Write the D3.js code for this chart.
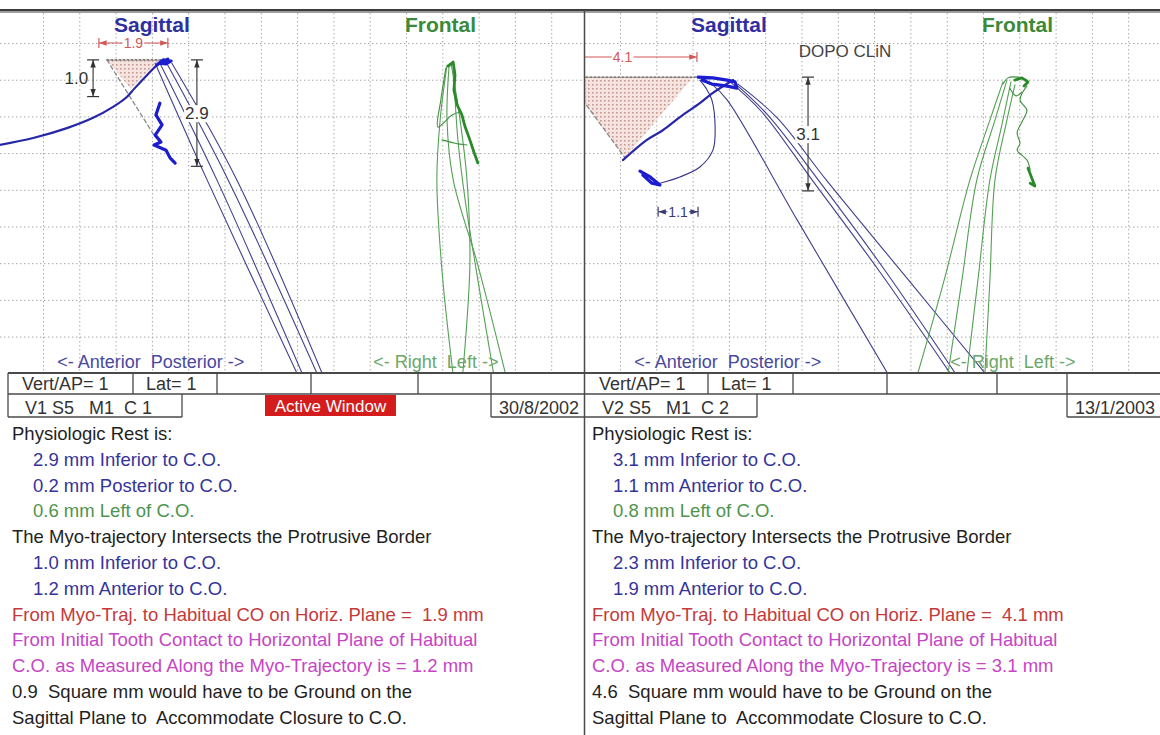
<!DOCTYPE html>
<html lang="en">
<head>
<meta charset="UTF-8">
<title>Myo-trajectory</title>
<script src="https://cdn.jsdelivr.net/npm/d3@7"></script>
<style>
  body { margin: 0; background: #fff; }
  svg text { font-family: "Liberation Sans", Arial, sans-serif; white-space: pre; }
  .grid line { stroke: #a4a4a4; stroke-dasharray: 1.4 2.6; }
  .grid .domain { display: none; }
</style>
</head>
<body>
<script>
// two recordings side by side: left = visit 1, right = visit 2
const sessionIds = ["V1 S5   M1  C 1", "V2 S5   M1  C 2"];
const sessionDates = ["30/8/2002", "13/1/2003"];
const scaleLabels = ["Vert/AP= 1", "Lat= 1"];
const noteR = "DOPO CLiN";

// readings, mm
const restInferior = [2.9, 3.1];
const restAP = [0.2, 1.1];
const restAPSide = ["Posterior", "Anterior"];
const restLeft = [0.6, 0.8];
const crossInferior = [1.0, 2.3];
const crossAnterior = [1.2, 1.9];
const horizPlane = [1.9, 4.1];
const alongTraj = [1.2, 3.1];
const groundArea = [0.9, 4.6];

// habitual C.O. in the sagittal view (mm on the 1 mm grid, y down)
const coSag = [[4.44, 1.46], [3.12, 1.93]];

// ---- left recording, sagittal ----
const sagStrokesL = [
  [[4.09, 1.55], [5.52, 4.73], [8.02, 10.05]],
  [[4.22, 1.55], [5.79, 4.73], [8.16, 10.05]],
  [[4.39, 1.52], [6.10, 4.73], [8.57, 10.05]],
  [[4.55, 1.55], [6.34, 4.73], [8.71, 10.05]]
];
const sagMyoL = [[-0.2, 3.78], [0.73, 3.59], [1.66, 3.32], [2.38, 3.04], [2.93, 2.74],
  [3.31, 2.47], [3.51, 2.25], [3.87, 1.87], [4.22, 1.52]];
const sagCOL = [[4.14, 1.60], [4.31, 1.46], [4.53, 1.49], [4.39, 1.57], [4.22, 1.55], [4.44, 1.44]];
const sagRestL = [[4.22, 2.64], [4.11, 2.96], [4.28, 3.23], [4.09, 3.51], [4.25, 3.70],
  [4.06, 3.78], [4.39, 3.92], [4.50, 4.13], [4.64, 4.27]];
const groundTriL = [[2.76, 1.46], [4.22, 1.46], [3.42, 2.25]];
const borderL = [[2.76, 1.46], [4.09, 3.56]];

// ---- left recording, frontal ----
const frontStrokesL = [
  [[12.13, 1.60], [11.94, 3.10], [11.85, 4.73], [11.99, 7.19], [12.30, 10.05]],
  [[12.19, 1.57], [12.13, 3.10], [12.30, 4.73], [12.98, 7.05], [13.75, 10.05]],
  [[12.24, 1.55], [12.49, 3.10], [12.68, 4.73], [12.76, 7.05], [12.56, 10.05]],
  [[12.30, 1.55], [12.43, 3.64], [12.63, 5.28], [12.98, 7.46], [13.42, 10.05]]
];
const frontScribbleL = [[12.16, 1.63], [12.30, 1.52], [12.35, 1.87], [12.32, 2.28], [12.41, 2.69],
  [12.54, 2.96], [12.63, 3.29], [12.76, 3.64], [12.87, 3.97], [12.98, 4.27]];
const frontLoopL = [[12.10, 1.68], [11.96, 2.55], [11.88, 3.29], [12.27, 2.96], [12.49, 2.88]];
const frontLoopL2 = [[11.99, 3.64], [12.35, 3.73], [12.68, 3.78]];

// ---- right recording, sagittal ----
const sagStrokesR = [
  [[3.53, 2.12], [3.95, 2.55], [5.88, 5.82], [8.40, 10.05]],
  [[3.98, 2.01], [4.91, 2.88], [6.29, 4.73], [8.16, 7.24], [10.13, 10.05]],
  [[4.12, 2.06], [5.05, 2.94], [6.46, 4.73], [8.33, 7.24], [10.27, 10.05]],
  [[4.25, 2.12], [5.33, 3.04], [6.68, 4.73], [8.99, 7.51], [11.10, 10.05]]
];
const sagMyoR = [[1.08, 4.19], [1.74, 3.64], [2.19, 3.37], [2.65, 3.02], [3.20, 2.64], [3.56, 2.36], [4.12, 2.01]];
const sagTopR = [[3.15, 1.93], [3.56, 1.95], [3.95, 2.01], [4.17, 2.06], [4.22, 2.23],
  [3.92, 2.17], [3.53, 2.12], [3.26, 2.01]];
const sagRestR = [[1.55, 4.49], [1.83, 4.65], [2.10, 4.87], [1.88, 4.82], [1.63, 4.60]];
const sagLoopR = [[2.10, 4.82], [2.65, 4.65], [3.20, 4.38], [3.56, 3.92], [3.62, 3.29],
  [3.53, 2.55], [3.37, 2.23], [3.20, 2.01]];
const groundTriR = [[-0.49, 1.93], [3.01, 1.93], [1.14, 4.13]];
const borderR = [[-0.49, 1.93], [1.14, 4.13]];

// ---- right recording, frontal ----
const frontStrokesR = [
  [[11.55, 2.06], [11.19, 3.10], [10.64, 4.73], [9.93, 7.46], [9.19, 10.05]],
  [[11.66, 2.01], [11.33, 3.10], [10.83, 4.73], [10.42, 7.46], [10.03, 10.05]],
  [[11.77, 2.06], [11.52, 3.23], [11.19, 4.73], [10.86, 7.46], [10.55, 10.05]],
  [[11.88, 2.14], [11.63, 3.23], [11.33, 4.73], [11.19, 7.46], [11.05, 10.05]]
];
const frontTopR = [[11.55, 2.12], [11.69, 1.95], [11.96, 1.93], [12.21, 2.01]];
const frontInnerR = [[11.74, 2.23], [11.91, 2.44], [12.07, 2.34]];
const frontScribbleR = [[12.21, 2.17], [12.02, 2.55], [12.21, 2.83], [12.10, 3.10], [11.94, 3.45],
  [12.02, 3.73], [11.94, 3.92], [12.21, 4.19], [12.30, 4.46]];
const frontBlobTopR = [[11.88, 2.01], [12.07, 1.95], [12.24, 2.06], [12.13, 2.17]];
const frontBlobEndR = [[12.24, 4.41], [12.32, 4.62], [12.43, 4.90], [12.30, 4.82]];

// dimension callouts, mm
const dimsL = [
  { axis: "h", at: 1.0, from: coSag[0][0] - horizPlane[0], to: coSag[0][0], value: horizPlane[0], tone: "red" },
  { axis: "v", at: 2.38, from: coSag[0][1], to: coSag[0][1] + crossInferior[0], value: crossInferior[0], tone: "dark", side: "left" },
  { axis: "v", at: 5.24, from: coSag[0][1], to: coSag[0][1] + restInferior[0], value: restInferior[0], tone: "dark" }
];
const dimsR = [
  { axis: "h", at: 1.38, from: coSag[1][0] - horizPlane[1], to: coSag[1][0], value: horizPlane[1], tone: "red" },
  { axis: "v", at: 6.18, from: coSag[1][1], to: coSag[1][1] + restInferior[1], value: restInferior[1], tone: "dark" },
  { axis: "h", at: 5.60, from: 2.05, to: 2.05 + restAP[1], value: restAP[1], tone: "navy", small: true }
];

// ---------------------------------------------------------------
const W = 1160, H = 735;
const plotTop = 13, plotBottom = 373;
const panelX = [[0, 584], [585, 1160]];
const gridX0 = [6.7, 583.7];
const mmX = 36.3, mmY = 36.7;

const ink = "#1f1f1f", navy = "#34349a", green = "#4e944e", red = "#c43a3a", magenta = "#c645c6";
const tones = { red: "#d25858", dark: "#333", navy: "#3a3a70" };

const svg = d3.select("body").append("svg").attr("width", W).attr("height", H);
const defs = svg.append("defs");

const pat = defs.append("pattern").attr("id", "hatch")
  .attr("width", 4).attr("height", 4).attr("patternUnits", "userSpaceOnUse");
pat.append("rect").attr("width", 4).attr("height", 4).attr("fill", "#f4e3de");
pat.append("rect").attr("width", 1.6).attr("height", 1.6).attr("fill", "#c69a92");

Object.entries(tones).forEach(([id, c]) => {
  defs.append("marker").attr("id", "arr-" + id)
    .attr("viewBox", "0 0 10 10").attr("refX", 10).attr("refY", 5)
    .attr("markerWidth", 7).attr("markerHeight", 7).attr("orient", "auto-start-reverse")
    .append("path").attr("d", "M0,1.5L10,5L0,8.5z").attr("fill", c);
});

function dimension(g, x, y, dm) {
  const col = tones[dm.tone];
  const v = dm.axis === "v";
  const p0 = v ? [x(dm.at), y(dm.from)] : [x(dm.from), y(dm.at)];
  const p1 = v ? [x(dm.at), y(dm.to)] : [x(dm.to), y(dm.at)];
  g.append("line")
    .attr("x1", p0[0]).attr("y1", p0[1]).attr("x2", p1[0]).attr("y2", p1[1])
    .attr("stroke", col).attr("stroke-width", 1.1)
    .attr("marker-start", `url(#arr-${dm.tone})`).attr("marker-end", `url(#arr-${dm.tone})`);
  [p0, p1].forEach(p => {
    g.append("line")
      .attr("x1", v ? p[0] - 6 : p[0]).attr("x2", v ? p[0] + 6 : p[0])
      .attr("y1", v ? p[1] : p[1] - 5).attr("y2", v ? p[1] : p[1] + 5)
      .attr("stroke", col).attr("stroke-width", 1.2);
  });
  const fs = dm.small ? 14 : (dm.tone === "red" ? 14 : 17);
  const mid = [(p0[0] + p1[0]) / 2, (p0[1] + p1[1]) / 2];
  if (dm.side === "left") {
    g.append("text").attr("x", p0[0] - 5).attr("y", mid[1] + 6)
      .attr("text-anchor", "end").attr("font-size", fs).attr("fill", "#333")
      .text(dm.value.toFixed(1));
    return;
  }
  const t = g.append("text").attr("x", mid[0]).attr("y", mid[1] + fs * 0.36)
    .attr("text-anchor", "middle").attr("font-size", fs).attr("fill", dm.tone === "dark" ? "#333" : col)
    .text(dm.value.toFixed(1));
  const b = t.node().getBBox();
  g.insert("rect", () => t.node())
    .attr("x", b.x - 1).attr("y", b.y + 1).attr("width", b.width + 2).attr("height", b.height - 2)
    .attr("fill", "#fff");
}

function drawPanel(i, p) {
  const [px0, px1] = panelX[i];
  const x = d3.scaleLinear().domain([0, 16]).range([gridX0[i], gridX0[i] + 16 * mmX]);
  const y = d3.scaleLinear().domain([0, 10]).range([6.3, 6.3 + 10 * mmY]);

  defs.append("clipPath").attr("id", "clip" + i).append("rect")
    .attr("x", px0).attr("y", plotTop).attr("width", px1 - px0).attr("height", plotBottom - plotTop);
  const g = svg.append("g");
  const plot = g.append("g").attr("clip-path", `url(#clip${i})`);

  // 1 mm grid
  plot.append("g").attr("class", "grid").attr("transform", `translate(0,${plotTop})`)
    .call(d3.axisTop(x).tickValues(d3.range(1, 16)).tickSize(-(plotBottom - plotTop)).tickFormat(""));
  plot.append("g").attr("class", "grid").attr("transform", `translate(${px0},0)`)
    .call(d3.axisLeft(y).tickValues(d3.range(1, 10)).tickSize(-(px1 - px0)).tickFormat(""));

  const straight = d3.line().x(d => x(d[0])).y(d => y(d[1]));
  const smooth = d3.line().x(d => x(d[0])).y(d => y(d[1])).curve(d3.curveCatmullRom);
  const draw = (pts, gen, stroke, w, dash) => plot.append("path")
    .attr("d", gen(pts)).attr("fill", "none").attr("stroke", stroke)
    .attr("stroke-width", w).attr("stroke-linejoin", "round").attr("stroke-linecap", "round")
    .attr("stroke-dasharray", dash || null);

  // area that would have to be ground
  plot.append("path").attr("d", straight(p.tri) + "Z").attr("fill", "url(#hatch)");
  draw([p.tri[0], [coSag[i][0], p.tri[0][1]]], straight, "#555", 1.2, "2 2");
  draw(p.border, straight, "#8a8a8a", 1.3, "4 3");

  p.sagStrokes.forEach(s => draw(s, smooth, "#40408c", 1.1));
  p.frontStrokes.forEach(s => draw(s, smooth, "#55a055", 1.1));
  p.thinBlue.forEach(s => draw(s, smooth, "#34348c", 1.1));
  p.thinGreen.forEach(s => draw(s, smooth, "#3f8f3f", 1.1));
  draw(p.myo, smooth, "#2626a8", 2.2);
  p.thickBlue.forEach(s => draw(s, straight, "#1c1cd0", 3.2));
  p.thickGreen.forEach(s => draw(s, straight, "#2a8a2a", 2.8));

  p.dims.forEach(dm => dimension(plot, x, y, dm));

  if (p.note) {
    g.append("text").attr("x", x(7.2)).attr("y", y(1.38)).attr("text-anchor", "middle")
      .attr("font-size", 17).attr("fill", "#444").text(p.note);
  }

  // view titles and direction labels
  g.append("text").attr("x", x(4.0)).attr("y", y(0.70)).attr("text-anchor", "middle")
    .attr("font-size", 21).attr("font-weight", "bold").attr("fill", "#2f2fa0").text("Sagittal");
  g.append("text").attr("x", x(11.95)).attr("y", y(0.70)).attr("text-anchor", "middle")
    .attr("font-size", 21).attr("font-weight", "bold").attr("fill", "#3b8a3b").text("Frontal");
  g.append("text").attr("x", x(1.39)).attr("y", y(9.85))
    .attr("font-size", 18).attr("fill", "#4848a0").text("<- Anterior  Posterior ->");
  g.append("text").attr("x", x(10.1)).attr("y", y(9.85))
    .attr("font-size", 18).attr("fill", "#6aa86a").text("<- Right  Left ->");

  // status rows
  const rowTop = 373, rowMid = 394, rowBot = 417;
  const left = i === 0 ? 8 : px0;
  const dividers = i === 0 ? [133, 217, 311, 418, 491] : [708, 793, 887, 997, 1067];
  const idRight = i === 0 ? 182 : 757;
  const ln = (x1, y1, x2, y2, w) => g.append("line")
    .attr("x1", x1).attr("y1", y1).attr("x2", x2).attr("y2", y2)
    .attr("stroke", "#4a4a4a").attr("stroke-width", w || 1.3);
  ln(left, rowTop, px1, rowTop, 2);
  ln(left, rowMid, px1, rowMid, 1.5);
  if (i === 0) ln(left, rowTop, left, rowBot);
  dividers.forEach((dx, k) => ln(dx, rowTop, dx, k === dividers.length - 1 ? rowBot : rowMid));
  ln(left, rowBot, idRight, rowBot);
  ln(idRight, rowMid, idRight, rowBot);
  ln(dividers[dividers.length - 1], rowBot, px1, rowBot);

  const st = (tx, ty, s, anchor) => g.append("text").attr("x", tx).attr("y", ty)
    .attr("text-anchor", anchor || "start").attr("font-size", 18).attr("fill", "#333").text(s);
  st(left + 14, 390, scaleLabels[0]);
  st(dividers[0] + 13, 390, scaleLabels[1]);
  st(left + 17, 414, sessionIds[i]);
  st(px1 - 5, 414, sessionDates[i], "end");

  if (i === 0) {
    g.append("rect").attr("x", 265).attr("y", 395).attr("width", 131).attr("height", 21).attr("fill", "#d41c1c");
    g.append("text").attr("x", 330.5).attr("y", 412).attr("text-anchor", "middle")
      .attr("font-size", 17).attr("fill", "#fff").text("Active Window");
  }

  // report text
  const rows = [
    ["Physiologic Rest is:", ink, 0],
    [`${restInferior[i].toFixed(1)} mm Inferior to C.O.`, navy, 1],
    [`${restAP[i].toFixed(1)} mm ${restAPSide[i]} to C.O.`, navy, 1],
    [`${restLeft[i].toFixed(1)} mm Left of C.O.`, green, 1],
    ["The Myo-trajectory Intersects the Protrusive Border", ink, 0],
    [`${crossInferior[i].toFixed(1)} mm Inferior to C.O.`, navy, 1],
    [`${crossAnterior[i].toFixed(1)} mm Anterior to C.O.`, navy, 1],
    [`From Myo-Traj. to Habitual CO on Horiz. Plane =  ${horizPlane[i].toFixed(1)} mm`, red, 0],
    ["From Initial Tooth Contact to Horizontal Plane of Habitual", magenta, 0],
    [`C.O. as Measured Along the Myo-Trajectory is = ${alongTraj[i].toFixed(1)} mm`, magenta, 0],
    [`${groundArea[i].toFixed(1)}  Square mm would have to be Ground on the`, ink, 0],
    ["Sagittal Plane to  Accommodate Closure to C.O.", ink, 0]
  ];
  const tx0 = i === 0 ? 12 : 592;
  g.selectAll("text.row").data(rows).join("text").attr("class", "row")
    .attr("x", d => tx0 + d[2] * 21)
    .attr("y", (d, k) => 440 + k * 25.8)
    .attr("font-size", 18.5).attr("fill", d => d[1])
    .text(d => d[0]);
}

drawPanel(0, {
  tri: groundTriL, border: borderL,
  sagStrokes: sagStrokesL, frontStrokes: frontStrokesL,
  thinBlue: [], thinGreen: [frontLoopL, frontLoopL2],
  myo: sagMyoL, thickBlue: [sagCOL, sagRestL], thickGreen: [frontScribbleL],
  dims: dimsL
});
drawPanel(1, {
  tri: groundTriR, border: borderR,
  sagStrokes: sagStrokesR, frontStrokes: frontStrokesR,
  thinBlue: [sagLoopR], thinGreen: [frontTopR, frontInnerR, frontScribbleR],
  myo: sagMyoR, thickBlue: [sagTopR, sagRestR], thickGreen: [frontBlobTopR, frontBlobEndR],
  dims: dimsR, note: noteR
});

// frame: top rule and the divider between the two windows
svg.append("rect").attr("x", 0).attr("y", 9).attr("width", W).attr("height", 2.2).attr("fill", "#3c3c3c");
svg.append("rect").attr("x", 0).attr("y", 11.2).attr("width", W).attr("height", 1.6).attr("fill", "#8a8a8a");
svg.append("line").attr("x1", 584.5).attr("y1", 10).attr("x2", 584.5).attr("y2", H)
  .attr("stroke", "#4a4a4a").attr("stroke-width", 1.5);
</script>
</body>
</html>
